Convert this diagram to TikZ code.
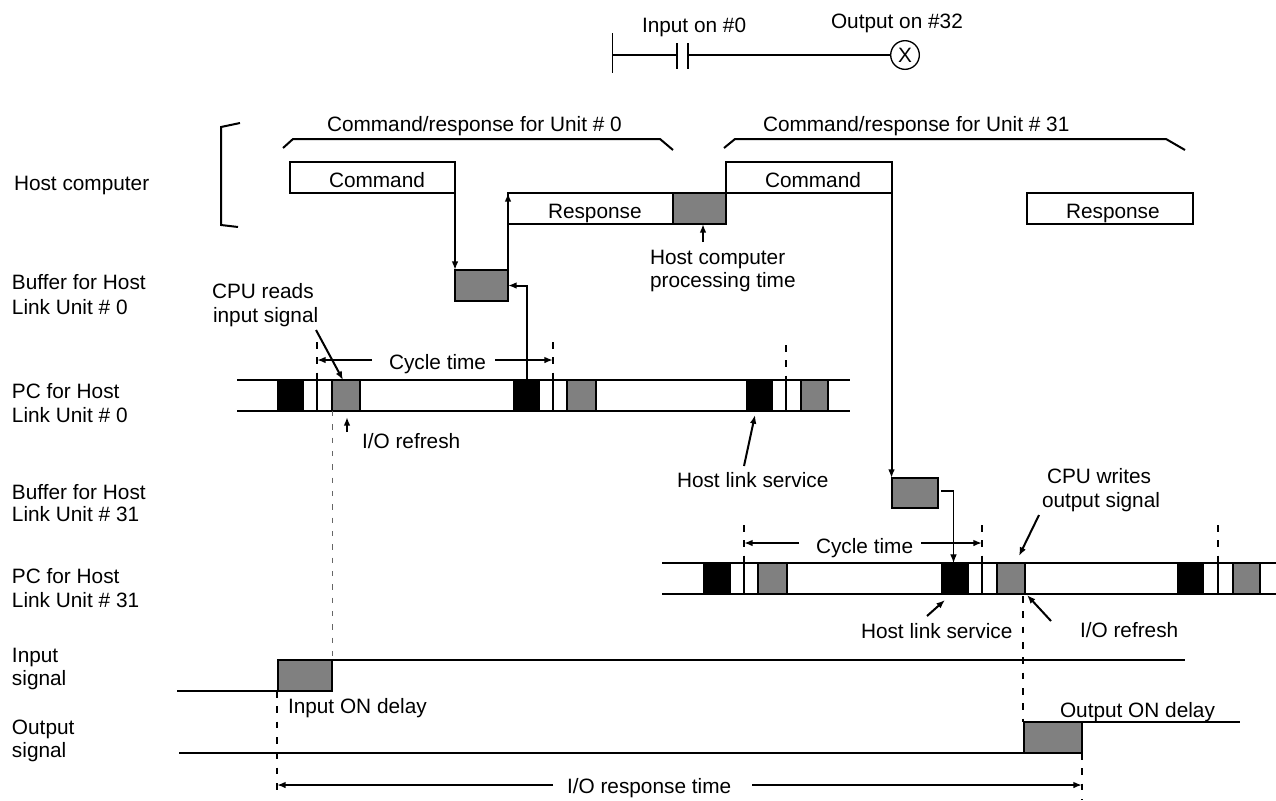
\documentclass[tikz,border=0pt]{standalone}
\usepackage{fontspec}
\setmainfont{Liberation Sans}
\usetikzlibrary{arrows.meta}
\tikzset{
  ln/.style={line width=1.5pt,line cap=butt,line join=miter},
  thin1/.style={line width=0.8pt},
  arr/.style={ln,-{Latex[length=6.5pt,width=5pt]}},
  arrt/.style={thin1,-{Latex[length=6.5pt,width=5pt]}},
  dsh/.style={line width=1.4pt,dash pattern=on 5pt off 6.5pt},
  dshthin/.style={line width=0.5pt,draw=black!60,dash pattern=on 4pt off 6pt},
  boxw/.style={draw=black,ln,fill=white,inner sep=0pt,outer sep=0pt},
  boxg/.style={draw=black,ln,fill=black!50,inner sep=0pt,outer sep=0pt},
  boxk/.style={draw=black,ln,fill=black,inner sep=0pt,outer sep=0pt},
  txt/.style={inner sep=0pt,outer sep=0pt,anchor=base west,font=\fontsize{15.6}{18.7}\selectfont},
}
\newcommand\bx[6]{%
  \pgfmathsetmacro\bw{(#5-#3)*0.75}\pgfmathsetmacro\bh{(#6-#4)*0.75}%
  \node[#1,minimum width=\bw pt,minimum height=\bh pt] (#2) at ({(#3+#5)/2},{(#4+#6)/2}) {};}
\newcommand\tk[5]{% name, x, ytop, y1, y2
  \coordinate (#1a) at (#2,#3);\coordinate (#1b) at (#2,#4);\coordinate (#1c) at (#2,#5);
  \draw[dsh] (#1a) -- (#1b);
  \draw[ln] (#1b) -- (#1c);}
\newcommand\tx[4]{\node[txt] (#1) at (#2,#3) {#4};}
\begin{document}
\begin{tikzpicture}[x=0.75pt,y=-0.75pt]
\useasboundingbox (0,0) rectangle (1276,800);
% ladder
\coordinate (lt) at (612.5,33);\coordinate (lb) at (612.5,73);\coordinate (lm) at (612.5,55);
\coordinate (c1) at (677,55);\coordinate (c1t) at (677,43);\coordinate (c1b) at (677,69);
\coordinate (c2) at (688,55);\coordinate (c2t) at (688,43);\coordinate (c2b) at (688,69);
\draw[line width=1pt] (lt) -- (lb);
\draw[line width=1pt] (lm) -- (c1) (c1t) -- (c1b) (c2t) -- (c2b);
\node[circle,draw,line width=1pt,minimum size=21.5pt,inner sep=0pt,outer sep=0pt,font=\fontsize{15.6}{18}\selectfont] (coil) at (905,55) {X};
\draw[line width=1pt] (c2) -- (coil.west);
\tx{tin}{642}{32}{Input on \#0}
\tx{tout}{831}{28}{Output on \#32}
% bracket and braces
\coordinate (br1) at (240,123);\coordinate (br2) at (221,127);\coordinate (br3) at (221,225);\coordinate (br4) at (238,227);
\draw[ln] (br1) -- (br2) -- (br3) -- (br4);
\coordinate (u0a) at (283,148);\coordinate (u0b) at (293,139);\coordinate (u0c) at (660,139);\coordinate (u0d) at (673,150);
\draw[ln] (u0a) -- (u0b) -- (u0c) -- (u0d);
\coordinate (u1a) at (724,148);\coordinate (u1b) at (735,139);\coordinate (u1c) at (1166,139);\coordinate (u1d) at (1185,150);
\draw[ln] (u1a) -- (u1b) -- (u1c) -- (u1d);
\tx{tu0}{327}{131}{Command/response for Unit \# 0}
\tx{tu1}{763}{131}{Command/response for Unit \# 31}
% left labels
\tx{l1}{14}{190.5}{Host computer}
\tx{l2a}{12}{289.5}{Buffer for Host}
\tx{l2b}{12}{314}{Link Unit \# 0}
\tx{l3a}{12}{398}{PC for Host}
\tx{l3b}{12}{422}{Link Unit \# 0}
\tx{l4a}{12}{499}{Buffer for Host}
\tx{l4b}{12}{521}{Link Unit \# 31}
\tx{l5a}{12}{583}{PC for Host}
\tx{l5b}{12}{607}{Link Unit \# 31}
\tx{l6a}{12}{662}{Input}
\tx{l6b}{12}{685}{signal}
\tx{l7a}{12}{734}{Output}
\tx{l7b}{12}{757}{signal}
% host boxes
\bx{boxw}{cmd0}{290}{162}{455}{193}
\bx{boxw}{resp0}{508}{193}{673}{224}
\bx{boxg}{proc}{673}{193}{726}{224}
\bx{boxw}{cmd1}{726}{162}{891.5}{193}
\bx{boxw}{resp1}{1027}{193}{1193}{224}
\bx{boxg}{buf0}{455}{270}{508}{301}
\bx{boxg}{buf1}{891.5}{478}{938}{508}
\tx{tc0}{329}{187.5}{Command}
\tx{tr0}{548}{218}{Response}
\tx{tc1}{765}{187.5}{Command}
\tx{tr1}{1066}{218}{Response}
\tx{tp1}{650}{264}{Host computer}
\tx{tp2}{650}{287}{processing time}
\coordinate (pa) at (703,242);
\draw[arr] (pa) -- (proc.south -| pa);
% PC bar 0
\coordinate (b0a) at (237,380);\coordinate (b0b) at (850,380);\coordinate (b0c) at (237,411);\coordinate (b0d) at (850,411);
\draw[ln] (b0a) -- (b0b) (b0c) -- (b0d);
\bx{boxk}{k01}{278}{380}{303}{411}
\bx{boxg}{g01}{332}{380}{360}{411}
\bx{boxk}{k02}{514}{380}{539}{411}
\bx{boxg}{g02}{567}{380}{596}{411}
\bx{boxk}{k03}{747}{380}{772}{411}
\bx{boxg}{g03}{801}{380}{828}{411}
\tk{t01}{317}{342}{380}{411}
\tk{t02}{553}{342}{380}{411}
\tk{t03}{786}{345}{380}{411}
% PC bar 31
\coordinate (b1a) at (662,563);\coordinate (b1b) at (1276,563);\coordinate (b1c) at (662,594);\coordinate (b1d) at (1276,594);
\draw[ln] (b1a) -- (b1b) (b1c) -- (b1d);
\bx{boxk}{k11}{704}{563}{730}{594}
\bx{boxg}{g11}{758}{563}{787}{594}
\bx{boxk}{k12}{942}{563}{968}{594}
\bx{boxg}{g12}{997}{563}{1025}{594}
\bx{boxk}{k13}{1178}{563}{1203}{594}
\bx{boxg}{g13}{1232.5}{563}{1260}{594}
\tk{t11}{744}{525}{563}{594}
\tk{t12}{982}{525}{563}{594}
\tk{t13}{1218}{525}{563}{594}
% host connectors
\draw[arr] (cmd0.south east) -- (buf0.north west);
\draw[arr] (buf0.north east) -- (resp0.north west);
\draw[arr] (k02.north) |- (buf0.east);
\draw[arr] (cmd1.south east) -- (buf1.north west);
\coordinate (b1o) at (941,491);\coordinate (b1k) at (953.5,563);
\draw[arrt] (b1o) -| (b1k);
% cycle time
\tx{cy0}{389}{369.5}{Cycle time}
\coordinate (cy0l) at (372,360);\coordinate (cy0L) at (317,360);\coordinate (cy0r) at (495,360);\coordinate (cy0R) at (553,360);
\draw[arr] (cy0l) -- (cy0L);\draw[arr] (cy0r) -- (cy0R);
\tx{cy1}{816}{553}{Cycle time}
\coordinate (cy1l) at (799,543);\coordinate (cy1L) at (744,543);\coordinate (cy1r) at (921,543);\coordinate (cy1R) at (982,543);
\draw[arr] (cy1l) -- (cy1L);\draw[arr] (cy1r) -- (cy1R);
% annotations
\tx{cpua}{212}{298}{CPU reads}
\tx{cpub}{213}{322}{input signal}
\coordinate (cpus) at (316,330);\coordinate (cpue) at (343,380);
\draw[arr] (cpus) -- (cpue);
\tx{io0}{362}{448}{I/O refresh}
\coordinate (io0s) at (347,432);\coordinate (io0e) at (347,417);
\draw[arr] (io0s) -- (io0e);
\tx{hl0}{677}{487}{Host link service}
\coordinate (hl0s) at (744,466);\coordinate (hl0e) at (755,415);
\draw[arr] (hl0s) -- (hl0e);
\tx{cpw1}{1047}{483}{CPU writes}
\tx{cpw2}{1042}{507}{output signal}
\coordinate (cpws) at (1039,515);\coordinate (cpwe) at (1019,556);
\draw[arr] (cpws) -- (cpwe);
\tx{hl1}{861}{638}{Host link service}
\coordinate (hl1s) at (927,616);\coordinate (hl1e) at (945,600);
\draw[arr] (hl1s) -- (hl1e);
\tx{io1}{1080}{637}{I/O refresh}
\coordinate (io1s) at (1051,621);\coordinate (io1e) at (1027,595);
\draw[arr] (io1s) -- (io1e);
% signals
\bx{boxg}{ind}{278}{659.5}{332}{691}
\bx{boxg}{outd}{1024}{722}{1082}{753}
\coordinate (inl) at (177,691);\coordinate (inh) at (1185,659.5);
\draw[ln] (inl) -- (ind.south west);
\draw[ln] (ind.north east) -- (inh);
\coordinate (oul) at (179,753);\coordinate (ouh) at (1240,722);
\draw[ln] (oul) -- (outd.south west);
\draw[ln] (outd.north east) -- (ouh);
\tx{tid}{288}{713}{Input ON delay}
\tx{tod}{1060}{717}{Output ON delay}
% dashed guides
\draw[dshthin] (g01.south west) -- (ind.north east);
\coordinate (d2t) at (1023,596);\coordinate (d2b) at (1023,722);
\draw[dsh] (d2t) -- (d2b);
\coordinate (d3t) at (277,691);\coordinate (d3b) at (277,798);
\draw[dsh] (d3t) -- (d3b);
\coordinate (d4t) at (1082,753);\coordinate (d4b) at (1082,800);
\draw[dsh] (d4t) -- (d4b);
% response time
\tx{rt}{567}{793}{I/O response time}
\coordinate (rtl) at (553,785);\coordinate (rtL) at (277,785);\coordinate (rtr) at (752,785);\coordinate (rtR) at (1082,785);
\draw[arr] (rtl) -- (rtL);\draw[arr] (rtr) -- (rtR);
\end{tikzpicture}
\end{document}
